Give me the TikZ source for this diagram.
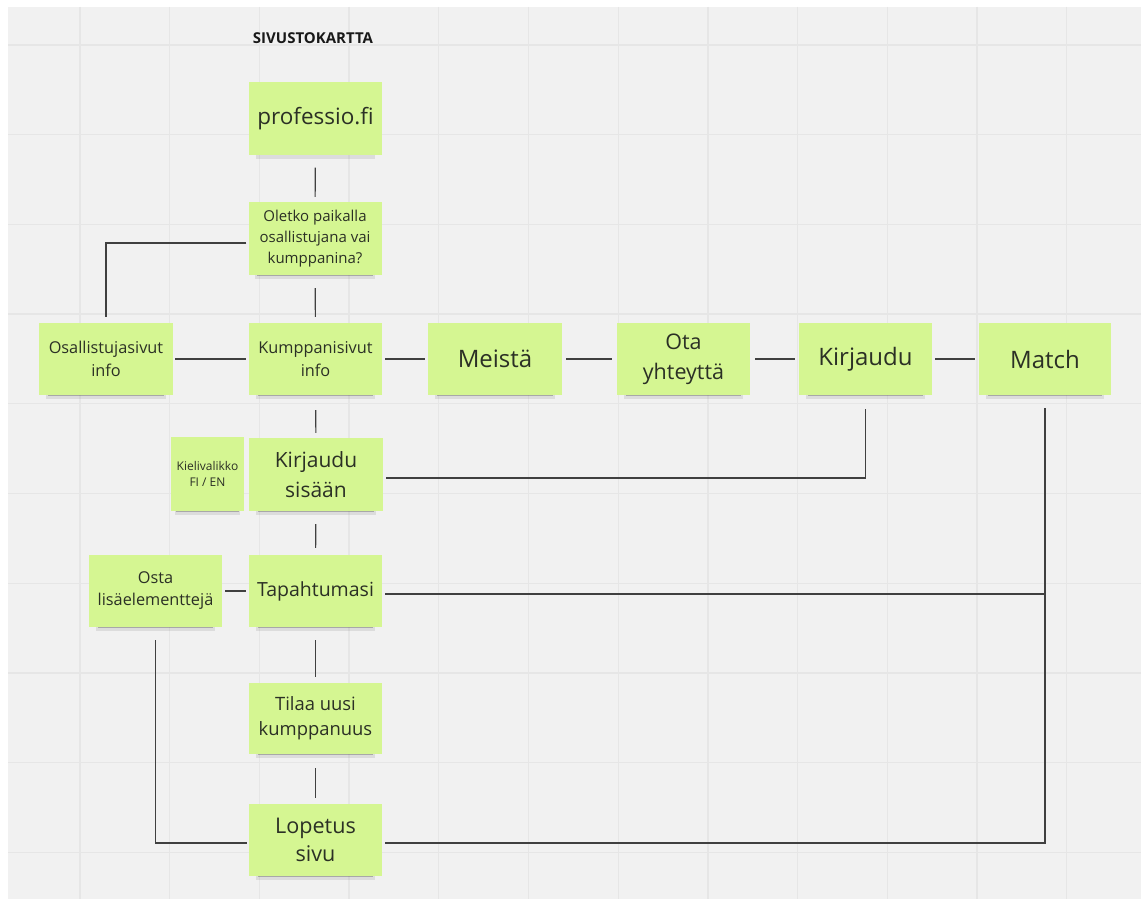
\documentclass[tikz,border=0pt]{standalone}
\usepackage{fontspec}
\setmainfont{Open Sans}
\usetikzlibrary{shadows}

\definecolor{sticky}{HTML}{D5F692}
\definecolor{board}{HTML}{F1F1F1}
\definecolor{gridline}{HTML}{E6E6E6}
\definecolor{inkline}{HTML}{404040}
\definecolor{notetext}{HTML}{2B3025}

\begin{document}
\begin{tikzpicture}[x=1pt,y=-1pt]

    \tikzset{
      note/.style={
        fill=sticky,
        text=notetext,
        align=center,
        inner sep=0pt,
        minimum width=133pt,
        minimum height=72pt,
        general shadow={fill=black!70, opacity=.12, shadow yshift=-8.5pt, shadow scale=.9},
        general shadow={fill=black!80, opacity=.3, shadow yshift=-6.5pt, shadow scale=.87},
      },
      wire/.style={draw=inkline, line width=1.1pt},
    }
    \useasboundingbox (0,0) rectangle (1141,899);
    \fill[white] (0,0) rectangle (1141,899);
    \fill[board] (8,7) rectangle (1141,899);
    \foreach \gx in {0,...,11}
      \draw[gridline, line width=1.3pt] ({80+89.7*\gx},7) -- ({80+89.7*\gx},899);
    \foreach \gy in {0,...,9}
      \draw[gridline, line width=1.3pt] (8,{45+89.7*\gy}) -- (1141,{45+89.7*\gy});

    \node[font=\fontsize{15}{18}\selectfont\bfseries, text=black!90] (title) at (313,38) {SIVUSTOKARTTA};

	\node[note, font=\fontsize{22.5}{30}\selectfont] (prof) at (315.5,118.5) {professio.fi};
	\node[note, font=\fontsize{15}{21}\selectfont, minimum height=73pt] (oletko) at (315,238.5) {Oletko paikalla\\osallistujana vai\\kumppanina?};
	\node[note, font=\fontsize{16.3}{23}\selectfont, minimum width=134pt] (osall) at (106,359) {Osallistujasivut\\info};
	\node[note, font=\fontsize{16.3}{23}\selectfont] (kumpp) at (315.5,359) {Kumppanisivut\\info};
	\node[note, font=\fontsize{24}{30}\selectfont, minimum width=134pt] (meista) at (495,359) {Meistä};
	\node[note, font=\fontsize{21.5}{30}\selectfont] (ota) at (683.5,359) {Ota\\yhteyttä};
	\node[note, font=\fontsize{24}{30}\selectfont] (kirj) at (865.5,359) {Kirjaudu};
	\node[note, font=\fontsize{24}{30}\selectfont, minimum width=132pt] (match) at (1045,359) {Match};
	\node[note, font=\fontsize{12}{16}\selectfont, minimum width=73pt, minimum height=74pt] (kieli) at (207.5,474) {Kielivalikko\\FI / EN};
	\node[note, font=\fontsize{21}{30}\selectfont, minimum width=134pt, minimum height=73pt] (ksisaan) at (316,474.5) {Kirjaudu\\sisään};
	\node[note, font=\fontsize{16.3}{22}\selectfont] (osta) at (155.5,591) {Osta\\lisäelementtejä};
	\node[note, font=\fontsize{19.5}{26}\selectfont] (tapaht) at (315.5,591) {Tapahtumasi};
	\node[note, font=\fontsize{18.4}{25}\selectfont, minimum height=71pt] (tilaa) at (315.5,718.5) {Tilaa uusi\\kumppanuus};
	\node[note, font=\fontsize{21.6}{28}\selectfont] (lopetus) at (315.5,840) {Lopetus\\sivu};

	% pystysuora runko
	\draw[wire, shorten <=13pt, shorten >=5pt] (prof) -- (oletko);
	\draw[wire, shorten <=13pt, shorten >=6pt] (oletko) -- (kumpp);
	\draw[wire, shorten <=15pt, shorten >=5pt] (kumpp) -- (ksisaan);
	\draw[wire, shorten <=13pt, shorten >=7pt] (ksisaan) -- (tapaht);
	\draw[wire, shorten <=13pt, shorten >=6pt] (tapaht) -- (tilaa);
	\draw[wire, shorten <=14pt, shorten >=6pt] (tilaa) -- (lopetus);

	% vaakarivi
	\draw[wire, shorten <=2pt, shorten >=3pt] (osall) -- (kumpp);
	\draw[wire, line width=1.9pt, shorten <=3pt, shorten >=3pt] (kumpp) -- (meista);
	\draw[wire, shorten <=4pt, shorten >=5pt] (meista) -- (ota);
	\draw[wire, shorten <=5pt, shorten >=4pt] (ota) -- (kirj);
	\draw[wire, shorten <=3pt, shorten >=4pt] (kirj) -- (match);
	\draw[wire, shorten <=3pt, shorten >=3pt] (osta) -- (tapaht);

	% kulmat
	\draw[wire, shorten <=2pt, shorten >=6pt] ([shift={(0,4.5)}]oletko.west) -| (osall.north);
	\draw[wire, shorten <=3pt, shorten >=14pt] ([shift={(0,3.5)}]ksisaan.east) -| (kirj.south);
	\draw[wire, shorten <=3pt, shorten >=13pt] ([shift={(0,3)}]tapaht.east) -| (match.south);
	\draw[wire, shorten <=3pt, shorten >=13pt] ([shift={(0,3)}]lopetus.east) -| (match.south);
	\draw[wire, shorten <=13pt, shorten >=2pt] (osta.south) |- ([shift={(0,3)}]lopetus.west);

\end{tikzpicture}
\end{document}
